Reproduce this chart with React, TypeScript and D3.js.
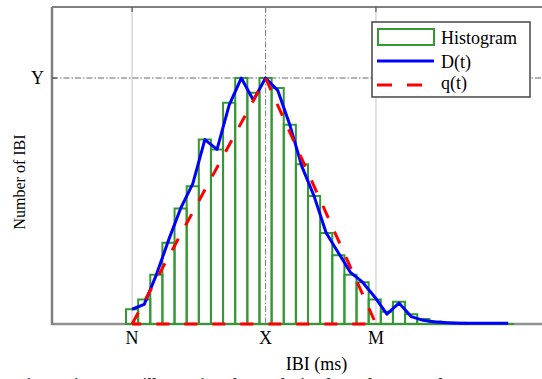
import React from "react";
import * as d3 from "d3";

const histCounts = [6, 10, 20, 33, 47, 56, 75, 71, 90, 100, 94, 100, 96, 81, 65, 52, 37, 28, 20, 17, 10, 5, 9, 4, 2, 1, 0.5, 0.5, 0, 0, 0, 0];
const dValues = [6, 8, 20, 34, 47, 57, 75, 71, 89, 100, 91, 100, 95, 81, 64, 52, 37, 29, 21, 17, 11, 4, 8.5, 3, 1.5, 0.8, 0.5, 0.3, 0.3, 0.3, 0.3, 0.3];
const qX = [0.5, 11.5, 20.6, 0.5];
const qY = [0, 100, 0, 0];
const xTickValues = [0.5, 11.5, 20.6];
const xTickLabels = ["N", "X", "M"];
const yTickValues = [100];
const yTickLabels = ["Y"];
const legendLabels = ["Histogram", "D(t)", "q(t)"];

const W = 542;
const H = 379;
const FONT = "'Liberation Serif', 'Times New Roman', serif";
const GREEN = "#339933";

export default function App() {
  const left = 52, right = 581, top = 7, bottom = 324;
  const x = d3.scaleLinear().domain([-6.1, 37.5]).range([left, right]);
  const y = d3.scaleLinear().domain([0, 128.9]).range([bottom, top]);

  const barPaths = histCounts.map((v, i) => {
    const x0 = x(i), x1 = x(i + 1), y0 = y(0), y1 = y(v);
    return `M${x0},${y0}V${y1}H${x1}V${y0}Z`;
  });

  const dLine = d3
    .line<number>()
    .x((_, i) => x(i + 0.5))
    .y((v) => y(v))(dValues) as string;

  const qLine = d3
    .line<number>()
    .x((_, i) => x(qX[i]))
    .y((v) => y(v))(qY) as string;

  const gridGray = "#d8d8d8";
  const dashGray = "#6a6a6a";

  return (
    <svg width={W} height={H} style={{ position: "absolute", left: 0, top: 0, background: "#fff" }} fontFamily={FONT}>
      <rect x={0} y={0} width={W} height={H} fill="#fff" />
      {/* light grid at N and M */}
      {[xTickValues[0], xTickValues[2]].map((v, i) => (
        <line key={"g" + i} x1={x(v)} x2={x(v)} y1={top} y2={bottom} stroke={gridGray} strokeWidth={1.5} />
      ))}
      {/* Y dash-dot horizontal */}
      {yTickValues.map((v, i) => (
        <line key={"yl" + i} x1={left} x2={right} y1={y(v)} y2={y(v)} stroke={dashGray} strokeWidth={1.1} strokeDasharray="6,2,1.5,2" />
      ))}
      {/* frame */}
      <line x1={left} x2={right} y1={top} y2={top} stroke="#808080" strokeWidth={2} />
      <line x1={left} x2={right} y1={bottom} y2={bottom} stroke="#909090" strokeWidth={2.5} />
      <line x1={left} x2={left} y1={top} y2={bottom + 1} stroke="#808080" strokeWidth={2.5} />
      {/* ticks */}
      {xTickValues.map((v, i) => (
        <line key={"tt" + i} x1={x(v)} x2={x(v)} y1={top} y2={top + 5} stroke="#555" strokeWidth={1.2} />
      ))}
      {yTickValues.map((v, i) => (
        <line key={"yt" + i} x1={left} x2={left + 5} y1={y(v)} y2={y(v)} stroke="#555" strokeWidth={1.2} />
      ))}
      {/* histogram */}
      {barPaths.map((d, i) => (
        <path key={"b" + i} d={d} fill="none" stroke={GREEN} strokeWidth={2} />
      ))}
      {/* X dash-dot vertical */}
      <line x1={x(xTickValues[1])} x2={x(xTickValues[1])} y1={top} y2={bottom} stroke="#8a8a8a" strokeWidth={1.1} strokeDasharray="6,2,1.5,2" />
      {/* D(t) */}
      <path d={dLine} fill="none" stroke="#0000ff" strokeWidth={3} strokeLinejoin="round" />
      {/* q(t) */}
      <path d={qLine} fill="none" stroke="#ff0000" strokeWidth={3} strokeDasharray="13,15" />
      {/* tick labels */}
      {xTickValues.map((v, i) => (
        <text key={"xl" + i} x={x(v)} y={344} textAnchor="middle" fontSize={18} fill="#000">
          {xTickLabels[i]}
        </text>
      ))}
      {yTickValues.map((v, i) => (
        <text key={"ylb" + i} x={44} y={y(v) + 6} textAnchor="end" fontSize={18} fill="#000">
          {yTickLabels[i]}
        </text>
      ))}
      {/* axis labels */}
      <text x={(left + right) / 2} y={370} textAnchor="middle" fontSize={18} fill="#000">IBI (ms)</text>
      <text transform="translate(25,182) rotate(-90)" textAnchor="middle" fontSize={16} fill="#000">Number of IBI</text>
      {/* legend */}
      <g>
        <rect x={372} y={22} width={158} height={75} fill="#fff" stroke="#444" strokeWidth={1.5} />
        <rect x={378} y={29} width={56} height={16} fill="#fff" stroke={GREEN} strokeWidth={2} />
        <line x1={377} x2={434} y1={61} y2={61} stroke="#0000ff" strokeWidth={3} />
        <line x1={377} x2={434} y1={85} y2={85} stroke="#ff0000" strokeWidth={3} strokeDasharray="15,15" />
        <text x={441} y={44} fontSize={18} fill="#000">{legendLabels[0]}</text>
        <text x={441} y={68} fontSize={18} fill="#000">{legendLabels[1]}</text>
        <text x={441} y={89} fontSize={18} fill="#000">{legendLabels[2]}</text>
      </g>
      {/* caption, clipped at bottom */}
      <text x={16} y={390} fontSize={17} fontWeight="bold" fill="#333">Fig. 3 Histogram illustrating the analysis of IBI data sample</text>
    </svg>
  );
}
